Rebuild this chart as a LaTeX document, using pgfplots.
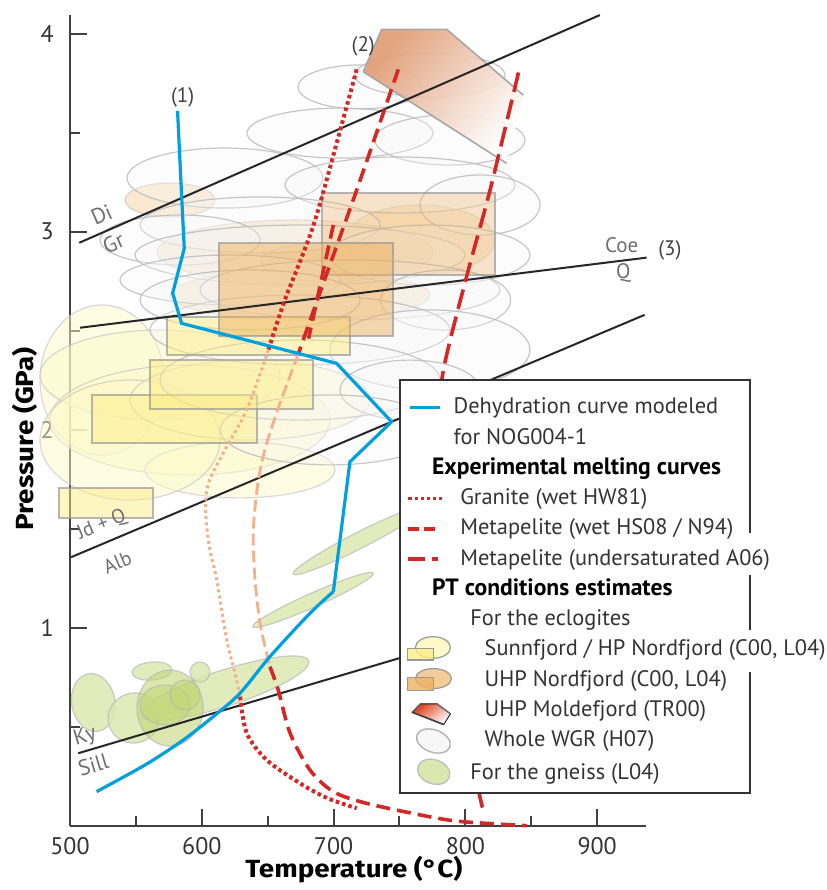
\documentclass[border=0pt]{standalone}
\usepackage{fontspec}
\setmainfont{PT Sans}
\newfontfamily\labfont{Fira Sans}[FakeStretch=1.12]
\usepackage{pgfplots}
\pgfplotsset{compat=1.18}

\definecolor{blueline}{RGB}{0,160,222}
\definecolor{redc}{RGB}{212,40,38}
\definecolor{salmon}{RGB}{244,176,138}
\definecolor{yellowf}{RGB}{252,238,135}
\definecolor{yellowe}{RGB}{253,249,200}
\definecolor{orangef}{RGB}{238,178,98}
\definecolor{orangee}{RGB}{243,205,150}
\definecolor{greenf}{RGB}{220,231,175}
\definecolor{greend}{RGB}{196,214,120}
\definecolor{moldA}{RGB}{224,154,114}
\definecolor{moldB}{RGB}{246,220,200}
\definecolor{lblgray}{RGB}{110,110,110}

\def\ellRX{10}\def\ellRY{10}\def\ellA{0}
\pgfdeclareplotmark{ell}{%
  \pgfmathsetmacro\ellB{\ellA+90}%
  \pgfmathsetlengthmacro\ellrx{\ellRX*0.5pt}%
  \pgfmathsetlengthmacro\ellry{\ellRY*0.5pt}%
  \pgfpathellipse{\pgfpointorigin}{\pgfpointpolar{\ellA}{\ellrx}}{\pgfpointpolar{\ellB}{\ellry}}%
  \pgfusepathqfillstroke}

% one ellipse: centre x, centre y (data), radii (reference pixels), angle, style
\newcommand\ellip[6]{\addplot[forget plot, only marks, mark=ell, #6,
  /utils/exec={\def\ellRX{#3}\def\ellRY{#4}\def\ellA{#5}}] coordinates {(#1,#2)};}

\pgfplotsset{
  wgr/.style={mark options={draw=black!28, draw opacity=0.8, fill=black!3, fill opacity=0.35, line width=0.6pt}},
  yel/.style={mark options={draw=black!25, draw opacity=0.6, fill=yellowe, fill opacity=0.5, line width=0.6pt}},
  org/.style={mark options={draw=black!25, draw opacity=0.6, fill=orangee, fill opacity=0.45, line width=0.6pt}},
  gn/.style={mark options={draw=black!28, draw opacity=0.7, fill=greenf, fill opacity=0.85, line width=0.6pt}},
  gnd/.style={mark options={draw=black!28, draw opacity=0.7, fill=greend, fill opacity=0.6, line width=0.6pt}},
  rect/.style={forget plot, draw=black!40, draw opacity=0.7, line width=0.9pt},
}

\begin{document}
\begin{tikzpicture}
\path[use as bounding box] (-35pt,-32.15pt) rectangle (378pt,412.85pt);
\begin{axis}[
  at={(0,0)}, anchor=south west,
  x=0.659pt, y=99pt,
  xmin=500, xmax=937, ymin=0, ymax=4.094,
  axis lines=left, axis line style={-, line width=1.2pt, color=black!75},
  clip=false, clip marker paths=true,
  tick align=inside,
  xtick={500,600,700,800,900}, minor xtick={550,650,750,850},
  ytick={1,2,3,4}, minor ytick={0.5,1.5,2.5,3.5},
  major tick length=8.5pt, minor tick length=5pt,
  every tick/.style={black!75, line width=1pt},
  /pgf/number format/assume math mode=true,
  /pgf/number format/1000 sep={},
  tick label style={font=\fontsize{12}{14}\selectfont, text=black!80},
  xticklabel style={anchor=base, inner sep=0pt, yshift=-14.6pt},
  yticklabel style={anchor=east, inner sep=0pt, xshift=-8pt},
  xlabel={Temperature (°C)},
  ylabel={Pressure (GPa)},
  x label style={at={(axis description cs:0.493,-0.0633)}, anchor=base, font=\labfont\fontsize{12.4}{14}\selectfont\bfseries},
  y label style={at={(axis description cs:-0.0637,0.477)}, anchor=base, font=\labfont\fontsize{12.4}{14}\selectfont\bfseries},
  legend cell align=left,
  legend style={at={(0.573,0.5498)}, anchor=north west, draw=none, fill=none,
    inner xsep=3pt, inner ysep=6.35pt, row sep=0.5pt,
    font=\fontsize{11.2}{13}\selectfont, text=black!80,
    nodes={inner xsep=0.5pt, inner ysep=1.5pt, text height=8.8pt, text depth=2.84pt}},
]

% ---- yellow ellipses (Sunnfjord / HP Nordfjord)
\ellip{524.3}{2.251}{62}{75}{0}{yel}
\ellip{568.3}{2.276}{120}{45}{0}{yel}
\ellip{591.0}{2.049}{140}{55}{0}{yel}
\ellip{629.0}{1.797}{95}{28}{0}{yel}
\ellip{545.5}{1.948}{90}{60}{0}{yel}
\ellip{636.6}{2.150}{120}{40}{0}{yel}
% ---- orange ellipses (UHP Nordfjord)
\ellip{575.9}{3.160}{45}{17}{0}{org}
\ellip{670.7}{2.897}{138}{32}{0}{org}
\ellip{674.5}{2.680}{130}{25}{0}{org}
\ellip{765.6}{2.958}{75}{35}{0}{org}
\ellip{697.3}{2.847}{70}{20}{0}{org}

% ---- Whole WGR ellipses
\ellip{720.0}{3.731}{62}{22}{0}{wgr}
\ellip{773.1}{3.791}{75}{22}{0}{wgr}
\ellip{704.9}{3.498}{93}{25}{0}{wgr}
\ellip{788.3}{3.463}{75}{25}{0}{wgr}
\ellip{617.6}{3.271}{98}{30}{0}{wgr}
\ellip{750.4}{3.236}{115}{28}{0}{wgr}
\ellip{811.1}{3.135}{60}{30}{0}{wgr}
\ellip{644.2}{3.034}{120}{28}{0}{wgr}
\ellip{583.5}{2.958}{80}{25}{0}{wgr}
\ellip{674.5}{2.882}{165}{30}{0}{wgr}
\ellip{773.1}{2.882}{100}{30}{0}{wgr}
\ellip{621.4}{2.756}{110}{25}{0}{wgr}
\ellip{712.4}{2.706}{150}{30}{0}{wgr}
\ellip{785.0}{2.655}{65}{30}{0}{wgr}
\ellip{674.5}{2.504}{150}{35}{0}{wgr}
\ellip{773.1}{2.403}{100}{40}{0}{wgr}
\ellip{674.5}{2.251}{140}{40}{0}{wgr}
\ellip{758.0}{2.200}{70}{30}{0}{wgr}
\ellip{697.3}{1.999}{110}{35}{0}{wgr}
\ellip{636.6}{2.655}{110}{30}{0}{wgr}

% ---- rectangles (Sunnfjord / HP Nordfjord)
\addplot[rect, fill=yellowf, fill opacity=0.5] coordinates {(491.9,1.553)(563.2,1.553)(563.2,1.705)(491.9,1.705)} -- cycle;
\addplot[rect, fill=yellowf, fill opacity=0.5] coordinates {(516.4,1.931)(641.6,1.931)(641.6,2.175)(516.4,2.175)} -- cycle;
\addplot[rect, fill=yellowf, fill opacity=0.5] coordinates {(560.7,2.103)(684.6,2.103)(684.6,2.352)(560.7,2.352)} -- cycle;
\addplot[rect, fill=yellowf, fill opacity=0.5] coordinates {(573.8,2.377)(712.4,2.377)(712.4,2.571)(573.8,2.571)} -- cycle;
% ---- rectangles (UHP Nordfjord)
\addplot[rect, fill=orangef, fill opacity=0.33] coordinates {(691.0,2.782)(822.5,2.782)(822.5,3.194)(691.0,3.194)} -- cycle;
\addplot[rect, fill=orangef, fill opacity=0.5] coordinates {(613.2,2.473)(744.8,2.473)(744.8,2.941)(613.2,2.941)} -- cycle;

% ---- UHP Moldefjord polygon
\addplot[forget plot, draw=none, top color=moldA, middle color=moldB, bottom color=white, shading angle=50, fill opacity=0.9] coordinates {(722.5,3.808)(736.5,4.022)(785.8,4.022)(843.9,3.69)(831.3,3.345)} -- cycle;
\addplot[forget plot, black!35, line width=0.8pt] coordinates {(722.5,3.808)(736.5,4.022)(785.8,4.022)(843.9,3.69)};
\addplot[forget plot, black!35, line width=0.8pt] coordinates {(722.5,3.808)(831.3,3.345)};

% ---- gneiss ellipses
\ellip{517.7}{0.622}{21.7}{29.2}{10}{gn}
\ellip{548.6}{0.544}{26}{25}{20}{gn}
\ellip{617.6}{0.695}{88}{18}{18}{gn}
\ellip{562.2}{0.781}{20}{9}{5}{gn}
\ellip{598.6}{0.776}{10}{10}{0}{gn}
\ellip{684.4}{1.140}{66}{7}{24}{gn}
\ellip{720.0}{1.443}{75}{8}{27}{gn}
\ellip{575.9}{0.594}{33}{38}{0}{gnd}
\ellip{572.1}{0.610}{25}{20}{0}{gnd}
\ellip{587.3}{0.660}{15}{15}{0}{gnd}

% ---- reaction lines
\addplot[forget plot, black!85, line width=1pt] coordinates {(507,2.944)(902,4.094)};
\addplot[forget plot, black!85, line width=1pt] coordinates {(507.6,2.515)(937.5,2.869)};
\addplot[forget plot, black!85, line width=1pt] coordinates {(500.8,1.356)(936,2.58)};
\addplot[forget plot, black!85, line width=1pt] coordinates {(506.3,0.366)(937,1.215)};

% ---- melting curves
% Granite (wet HW81)
\addplot[forget plot, redc, line width=2pt, dash pattern=on 1.8pt off 1.5pt, smooth] coordinates {(717.5,3.82)(704.9,3.51)(684.6,3.03)(663,2.655)(650.5,2.403)};
\addplot[forget plot, salmon, line width=1.5pt, dash pattern=on 1.5pt off 1.6pt, smooth] coordinates {(650.5,2.403)(634.1,2.10)(618.9,1.914)(605,1.73)(603,1.578)(606,1.40)(611.3,1.241)(618.9,0.938)(625.2,0.77)(629,0.652)};
\addplot[forget plot, redc, line width=2pt, dash pattern=on 1.8pt off 1.5pt, smooth] coordinates {(629,0.652)(634.1,0.467)(649.2,0.332)(674.5,0.214)(695,0.14)(717.5,0.088)};
% Metapelite (wet HS08 / N94)
\addplot[forget plot, redc, line width=1.8pt, dash pattern=on 7pt off 3.5pt, smooth] coordinates {(749.1,3.82)(717.5,3.21)(692.2,2.74)(673.4,2.386)};
\addplot[forget plot, redc, line width=1.8pt, dash pattern=on 7pt off 3.5pt] coordinates {(699.8,3.034)(681,2.46)};
\addplot[forget plot, salmon, line width=1.4pt, dash pattern=on 6pt off 2.5pt, smooth] coordinates {(673.4,2.386)(659.3,2.133)(649.2,1.931)(643,1.75)(639.1,1.493)(640.4,1.241)(644.2,1.022)(649.2,0.871)(651.7,0.803)};
\addplot[forget plot, redc, line width=1.8pt, dash pattern=on 7pt off 3.5pt, smooth] coordinates {(651.7,0.803)(658,0.685)(667,0.467)(682.1,0.281)(699.8,0.172)(725,0.113)(773,0.045)(798.4,0.02)(846.5,0.0)};
% Metapelite (undersaturated A06)
\addplot[forget plot, redc, line width=1.8pt, dash pattern=on 10pt off 4pt, smooth] coordinates {(840.3,3.804)(818.7,3.21)(800.9,2.773)(783.3,2.30)(780,2.0)(782,1.5)(790,1.0)(800,0.5)(811,0.146)(813.6,0.079)};

% ---- dehydration curve
\addplot[forget plot, blueline, line width=1.6pt] coordinates {(581.6,3.61)(584.7,3.18)(586.7,2.916)(577.9,2.69)(584.7,2.537)(702.3,2.335)(744,2.04)(712.4,1.838)(699.8,1.182)};
\addplot[forget plot, blueline, line width=1.6pt, smooth] coordinates {(699.8,1.182)(682.1,1.073)(651.7,0.854)(629,0.669)(608.7,0.551)(586,0.433)(563.2,0.332)(545,0.262)(520.2,0.172)};

% ---- labels
\node[font=\fontsize{11}{12}\selectfont, text=lblgray, rotate=23.6] at (axis cs:524,3.085) {Di};
\node[font=\fontsize{11}{12}\selectfont, text=lblgray, rotate=23.6] at (axis cs:532.9,2.944) {Gr};
\node[font=\fontsize{10}{21}\selectfont, text=lblgray, rotate=22.9, inner sep=0pt, align=center] at (axis cs:529.8,1.428) {Jd + Q\\Alb};
\node[font=\fontsize{11}{12}\selectfont, text=lblgray, rotate=16.5] at (axis cs:511.4,0.449) {Ky};
\node[font=\fontsize{11}{12}\selectfont, text=lblgray, rotate=16.5] at (axis cs:517.7,0.307) {Sill};
\node[font=\fontsize{10.5}{12}\selectfont, text=lblgray] at (axis cs:918.6,2.933) {Coe};
\node[font=\fontsize{10.5}{12}\selectfont, text=lblgray] at (axis cs:919.8,2.790) {Q};
\node[font=\fontsize{10.5}{12}\selectfont, text=black!75] at (axis cs:585.5,3.68) {(1)};
\node[font=\fontsize{10.5}{12}\selectfont, text=black!75] at (axis cs:722.5,3.934) {(2)};
\node[font=\fontsize{10.5}{12}\selectfont, text=black!75] at (axis cs:955.2,2.908) {(3)};

% ---- legend box
\fill[white] (axis cs:750.4,2.251) rectangle (axis cs:1016,0.165);
\draw[black!80, line width=1.1pt] (axis cs:1016,1.478) -- (axis cs:1016,2.251) -- (axis cs:750.4,2.251) -- (axis cs:750.4,0.165) -- (axis cs:1016,0.165) -- (axis cs:1016,0.776);
\draw[black!80, line width=1.1pt] (axis cs:1016,1.266) -- (axis cs:1016,0.988);

% ---- legend
\addlegendimage{legend image code/.code={\draw[blueline, line width=1.5pt] (2pt,0pt) -- (17pt,0pt); \path[draw=none, fill=none] (0pt,0pt) -- (22pt,0pt);}}
\addlegendentry{Dehydration curve modeled}
\addlegendimage{empty legend}
\addlegendentry{for NOG004-1}
\addlegendimage{empty legend}
\addlegendentry{\hspace*{-10.8pt}\fontsize{11.8}{13}\selectfont\textbf{\color{black}Experimental melting curves}}
\addlegendimage{legend image code/.code={\draw[redc, line width=1.7pt, dash pattern=on 1.6pt off 1.5pt] (1pt,0pt) -- (18pt,0pt); \path[draw=none, fill=none] (0pt,0pt) -- (22pt,0pt);}}
\addlegendentry{\hspace*{3.3pt}Granite (wet HW81)}
\addlegendimage{legend image code/.code={\draw[redc, line width=1.7pt, dash pattern=on 5.3pt off 2.7pt] (1pt,0pt) -- (16pt,0pt); \path[draw=none, fill=none] (0pt,0pt) -- (22pt,0pt);}}
\addlegendentry{\hspace*{3.3pt}Metapelite (wet HS08 / N94)}
\addlegendimage{legend image code/.code={\draw[redc, line width=1.7pt, dash pattern=on 8.3pt off 3.3pt on 3.3pt off 9pt] (1pt,0pt) -- (16pt,0pt); \path[draw=none, fill=none] (0pt,0pt) -- (22pt,0pt);}}
\addlegendentry{\hspace*{3.3pt}Metapelite (undersaturated A06)}
\addlegendimage{empty legend}
\addlegendentry{\hspace*{-10.8pt}\fontsize{11.8}{13}\selectfont\textbf{\color{black}PT conditions estimates}}
\addlegendimage{empty legend}
\addlegendentry{\hspace*{8.3pt}For the eclogites}
\addlegendimage{legend image code/.code={\draw[draw=black!40, fill=yellowe, line width=0.6pt] (13.25pt,1.25pt) ellipse [x radius=8.75pt, y radius=5.4pt]; \draw[draw=black!40, fill=yellowf, fill opacity=0.8, line width=0.6pt] (0.35pt,-5pt) rectangle (13.7pt,0.85pt); \path[draw=none, fill=none] (0pt,0pt) -- (22pt,0pt);}}
\addlegendentry{\hspace*{15.5pt}Sunnfjord / HP Nordfjord (C00, L04)}
\addlegendimage{legend image code/.code={\draw[draw=black!40, fill=orangee, line width=0.6pt] (13.5pt,0.85pt) ellipse [x radius=9pt, y radius=5pt]; \draw[draw=black!40, fill=orangef, fill opacity=0.8, line width=0.6pt] (0.5pt,-5pt) rectangle (13.7pt,1.5pt); \path[draw=none, fill=none] (0pt,0pt) -- (22pt,0pt);}}
\addlegendentry{\hspace*{15.5pt}UHP Nordfjord (C00, L04)}
\addlegendimage{legend image code/.code={\shade[top color=redc!75!orange, bottom color=white, shading angle=40] (2.85pt,-0.85pt) -- (7pt,3.35pt) -- (15.35pt,3.35pt) -- (22pt,-1.65pt) -- (18.65pt,-7pt) -- cycle; \draw[black!60, line width=0.6pt] (2.85pt,-0.85pt) -- (7pt,3.35pt) -- (15.35pt,3.35pt) -- (22pt,-1.65pt); \draw[black!75, line width=0.8pt] (2.85pt,-0.85pt) -- (18.65pt,-7pt); \path[draw=none, fill=none] (0pt,0pt) -- (22pt,0pt);}}
\addlegendentry{\hspace*{15.5pt}UHP Moldefjord (TR00)}
\addlegendimage{legend image code/.code={\draw[draw=black!30, fill=black!3, line width=0.7pt, rotate around={-20:(13.5pt,0pt)}] (13.5pt,0pt) ellipse [x radius=8.75pt, y radius=5.6pt]; \path[draw=none, fill=none] (0pt,0pt) -- (22pt,0pt);}}
\addlegendentry{\hspace*{15.5pt}Whole WGR (H07)}
\addlegendimage{legend image code/.code={\draw[draw=black!25, fill=greenf, line width=0.7pt, rotate around={-20:(13.65pt,0.75pt)}] (13.65pt,0.75pt) ellipse [x radius=8.3pt, y radius=6pt]; \path[draw=none, fill=none] (0pt,0pt) -- (22pt,0pt);}}
\addlegendentry{\hspace*{8.3pt}For the gneiss (L04)}

\end{axis}
\end{tikzpicture}
\end{document}
